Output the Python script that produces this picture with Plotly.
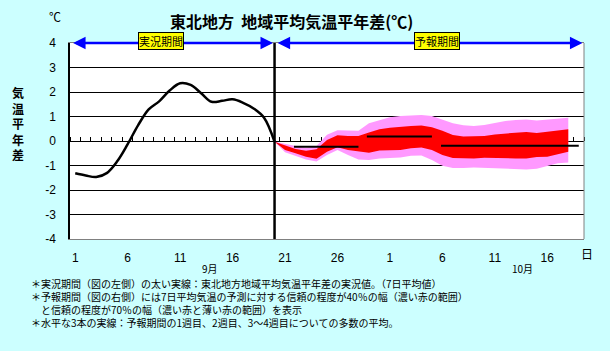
import plotly.graph_objects as go

# ---------------- data ----------------
# day index: 1 = Sep 1, 31 = Oct 1
obs_days = list(range(1, 21))
obs_vals = [-1.32, -1.41, -1.47, -1.31, -0.83, -0.13, 0.65, 1.29, 1.62, 2.06,
            2.36, 2.29, 1.95, 1.60, 1.64, 1.70, 1.56, 1.33, 0.95, -0.03]

fc_days = list(range(20, 49))
p_hi = [-0.03, -0.11, -0.20, -0.29, -0.20, 0.26, 0.44, 0.42, 0.42, 0.72, 0.86, 0.97, 1.02, 1.05, 1.06,
        1.02, 0.86, 0.72, 0.64, 0.61, 0.65, 0.75, 0.82, 0.86, 0.88, 0.84, 0.87, 0.91, 0.95]
r_hi = [-0.03, -0.19, -0.33, -0.40, -0.34, 0.04, 0.23, 0.20, 0.20, 0.35, 0.48, 0.54, 0.59, 0.61, 0.63,
        0.56, 0.42, 0.25, 0.18, 0.18, 0.20, 0.27, 0.31, 0.35, 0.37, 0.33, 0.37, 0.44, 0.48]
r_lo = [-0.03, -0.37, -0.50, -0.64, -0.72, -0.44, -0.26, -0.37, -0.44, -0.48, -0.39, -0.38, -0.37, -0.30, -0.27,
        -0.37, -0.57, -0.69, -0.71, -0.71, -0.68, -0.67, -0.69, -0.71, -0.71, -0.65, -0.64, -0.53, -0.44]
p_lo = [-0.03, -0.46, -0.61, -0.75, -0.84, -0.57, -0.37, -0.57, -0.75, -0.78, -0.71, -0.68, -0.67, -0.60, -0.59,
        -0.78, -1.01, -1.10, -1.10, -1.08, -1.09, -1.12, -1.13, -1.14, -1.16, -1.13, -1.02, -0.91, -0.88]

week_start = [21.85, 28.8, 35.87]
week_end = [28.0, 35.0, 49.0]
week_mean = [-0.23, 0.18, -0.19]

x_tick_days = [1, 6, 11, 16, 21, 26, 31, 36, 41, 46]
x_tick_labels = ["1", "6", "11", "16", "21", "26", "1", "6", "11", "16"]
y_ticks = [4, 3, 2, 1, 0, -1, -2, -3, -4]
y_tick_labels = ["4", "3", "2", "1", "0", "-1", "-2", "-3", "-4"]
month_labels = ["9月", "10月"]
month_pos = [13.8, 43.6]

notes = [
    "＊実況期間（図の左側）の太い実線：東北地方地域平均気温平年差の実況値。（7日平均値）",
    "＊予報期間（図の右側）には7日平均気温の予測に対する信頼の程度が40％の幅（濃い赤の範囲）",
    "　と信頼の程度が70％の幅（濃い赤と薄い赤の範囲）を表示",
    "＊水平な3本の実線：予報期間の1週目、2週目、3～4週目についての多数の平均。",
]

# ---------------- layout helpers ----------------
W, H = 610, 351
PL, PR, PT, PB = 70, 584, 43, 239
XR = [0.5, 49.5]
YR = [-4, 4]
JP = "Noto Sans CJK JP"
NUM = "Liberation Sans"


def px(x):
    return (x - PL) / (PR - PL)


def py(y):
    return (PB - y) / (PB - PT)


fig = go.Figure()

# 70% band (pink) then 40% band (red)
fig.add_trace(go.Scatter(x=fc_days + fc_days[::-1], y=p_hi + p_lo[::-1], fill="toself",
                         fillcolor="#FF99FF", line=dict(width=0), mode="lines", hoverinfo="skip"))
fig.add_trace(go.Scatter(x=fc_days + fc_days[::-1], y=r_hi + r_lo[::-1], fill="toself",
                         fillcolor="#FF0000", line=dict(width=0), mode="lines", hoverinfo="skip"))
# weekly means
for s, e, v in zip(week_start, week_end, week_mean):
    fig.add_trace(go.Scatter(x=[s, e], y=[v, v], mode="lines",
                             line=dict(color="black", width=2), hoverinfo="skip"))
# observed
fig.add_trace(go.Scatter(x=obs_days, y=obs_vals, mode="lines",
                         line=dict(color="black", width=2.5, shape="spline"), hoverinfo="skip"))
# dummy trace to activate the zero-line tick axis
fig.add_trace(go.Scatter(x=[obs_days[0]], y=[None], xaxis="x2", yaxis="y", mode="lines",
                         hoverinfo="skip"))

shapes = [
    dict(type="line", xref="x", yref="paper", x0=obs_days[-1], x1=obs_days[-1], y0=0, y1=1,
         line=dict(color="black", width=2.5), layer="above"),
    dict(type="line", xref="paper", yref="paper", x0=1, x1=1, y0=0, y1=1,
         line=dict(color="#808080", width=1)),
]

ann = []


def txt(x, y, text, size, xref="paper", xanchor="center", align="center", **fkw):
    ann.append(dict(x=x, y=py(y), xref=xref, yref="paper", text=text, showarrow=False,
                    xanchor=xanchor, yanchor="middle", align=align,
                    font=dict(family=JP, size=size, color="black", **fkw)))


# arrows for periods
for a, b in [(XR[0], obs_days[-1]), (obs_days[-1], XR[1])]:
    ann.append(dict(x=b - 0.15, y=YR[1], ax=a + 0.15, ay=YR[1], xref="x", yref="y", axref="x", ayref="y",
                    text="", showarrow=True, arrowhead=2, arrowside="end+start", arrowsize=1.0,
                    arrowwidth=2.5, arrowcolor="#0000FF"))
for lab, xc in [("実況期間", 161), ("予報期間", 437)]:
    ann.append(dict(x=px(xc), y=py(41.5), xref="paper", yref="paper", text=lab, showarrow=False,
                    xanchor="center", yanchor="middle",
                    font=dict(family=JP, size=11, color="black"), bgcolor="#FFFF00",
                    bordercolor="black", borderwidth=1, borderpad=0))
# title and units
txt(px(291), 21, "東北地方  地域平均気温平年差(℃)", 16, weight="bold")
txt(px(55), 17, "℃", 12)
txt(px(18), 123, "<br>".join("気温平年差"), 12, weight="bold")
txt(px(587), 253, "日", 12)
for lab, pos in zip(month_labels, month_pos):
    txt(pos, 268, lab, 10, xref="x")
txt(px(29), 303, "<br>".join(notes), 10, xanchor="left", align="left")

fig.update_layout(
    width=W, height=H,
    margin=dict(l=PL, r=W - PR, t=PT, b=H - PB, pad=0),
    paper_bgcolor="#CCFFFF", plot_bgcolor="white",
    showlegend=False,
    shapes=shapes, annotations=ann,
    xaxis=dict(range=XR, tickvals=x_tick_days, ticktext=x_tick_labels, showgrid=False, zeroline=False,
               showline=True, linecolor="#808080", linewidth=1, mirror=True, ticks="",
               ticklabelstandoff=8, tickfont=dict(family=NUM, size=12, color="black")),
    xaxis2=dict(range=XR, overlaying="x", anchor="free", position=0.5, side="top", tick0=0.5, dtick=1,
                ticks="outside", ticklen=4, tickwidth=1, tickcolor="black", showticklabels=False,
                showgrid=False, zeroline=False, showline=False, layer="below traces"),
    yaxis=dict(range=YR, tickvals=y_ticks, ticktext=y_tick_labels, showgrid=True, gridcolor="black",
               gridwidth=1, zeroline=True, zerolinecolor="black", zerolinewidth=1, showline=True,
               linecolor="black", linewidth=1.5, ticks="", ticklabelstandoff=10,
               tickfont=dict(family=NUM, size=12, color="black")),
)

fig.write_html("out.html")
